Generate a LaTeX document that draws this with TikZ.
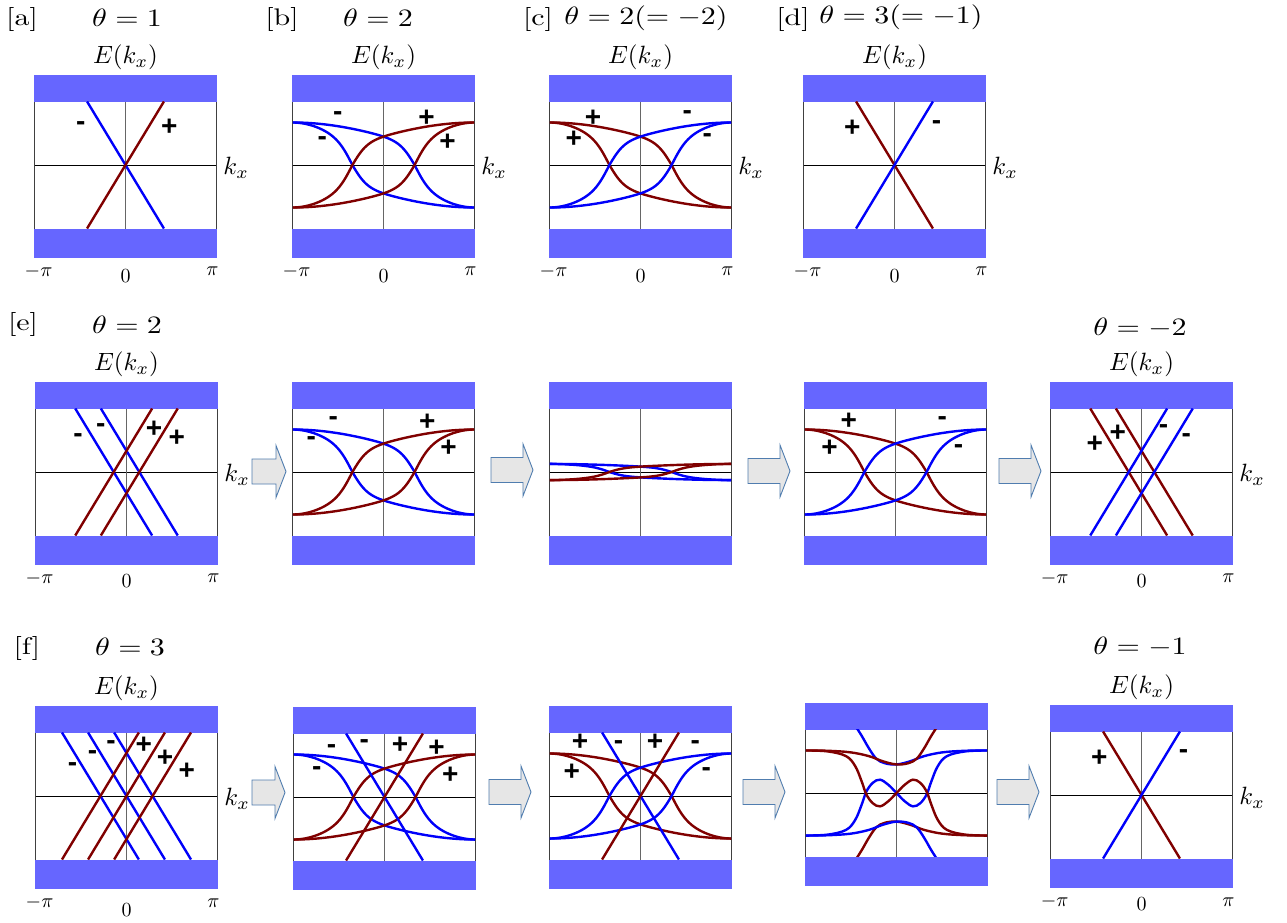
\documentclass[tikz,border=0pt]{standalone}
\usepackage{fontspec}
\newfontfamily\signfont{Liberation Sans}
\definecolor{bandc}{RGB}{102,102,255}
\definecolor{bluec}{RGB}{0,0,250}
\definecolor{redc}{RGB}{128,0,0}
\definecolor{arrfill}{RGB}{230,230,230}
\definecolor{arrdraw}{RGB}{80,125,175}
\newcommand\pbase{%
  \fill[bandc] (-1,1) rectangle (1,1.41);
  \fill[bandc] (-1,-1) rectangle (1,-1.457);
  \draw[frameline] (-0.99,-1) -- (-0.99,1) (0.99,-1) -- (0.99,1);
  \draw[axisline] (-0.99,0) -- (0.99,0);
  \draw[cline] (0,-1) -- (0,1);}
\newcommand\pEk[1]{\node[elab] (#1-E) at (0,1.70) {$E(k_x)$};}
\newcommand\pkx[1]{\node[klab] (#1-k) at (1.21,-0.04) {$k_x$};}
\newcommand\pticks[2]{\node[tick] (#1-m) at (-0.95,-1.68) {$-\pi$};
  \node[tick] (#1-z) at (0,#2) {$0$};
  \node[tick] (#1-p) at (0.95,-1.68) {$\pi$};}
\newcommand\bcurves[3]{%
  \draw[#1] plot[domain=-0.99:0.99,samples=110,smooth] (\x,{#3*bA(\x)});
  \draw[#1] plot[domain=-0.99:0.99,samples=110,smooth] (\x,{-#3*bA(-\x)});
  \draw[#2] plot[domain=-0.99:0.99,samples=110,smooth] (\x,{-#3*bA(\x)});
  \draw[#2] plot[domain=-0.99:0.99,samples=110,smooth] (\x,{#3*bA(-\x)});}
\newcommand\barrow[3]{\draw[arrst] ({#1},{#3-12.5}) -- ({#2-10},{#3-12.5}) -- ({#2-10},{#3-26}) -- ({#2},{#3}) -- ({#2-10},{#3+26}) -- ({#2-10},{#3+12.5}) -- ({#1},{#3+12.5}) -- cycle;}
\newcommand\inclip{\clip (-0.99,-1) rectangle (0.99,1);}
\begin{document}
\begin{tikzpicture}[x=1pt,y=-1pt,
  declare function={ee(\t)=exp(-2*min(abs(\t),6));
    th(\t)=sign(\t)*(1-ee(\t))/(1+ee(\t));
    gg(\x)=(\x<0.34) ? sin(90*(\x-0.34)/1.34) : sin(90*(\x-0.34)/0.66);
    bA(\x)=-(0.32*th((\x-0.34)/0.16)+0.35*gg(\x));},
  frameline/.style={draw=black!75,line width=1pt},
  axisline/.style={draw=black,line width=0.9pt},
  cline/.style={draw=black!60,line width=1pt},
  bl/.style={draw=bluec,line width=2.4pt},
  rd/.style={draw=redc,line width=2.4pt},
  brk/.style={scale=2.4,xscale=1.25,inner sep=0pt},
  hdr/.style={scale=2.5,xscale=1.2,inner sep=0pt},
  elab/.style={scale=2.5,inner sep=0pt},
  klab/.style={scale=2.5,inner sep=0pt},
  tick/.style={scale=2.0,inner sep=0pt},
  sgn/.style={font=\signfont\bfseries\fontsize{28}{32}\selectfont,inner sep=0pt},
  arrst/.style={draw=arrdraw,fill=arrfill,line width=0.9pt,line join=miter}]
\useasboundingbox (0,0) rectangle (1287,922);
\fill[white] (0,0) rectangle (1287,922);
% ---------------- headers
\node[brk] (h-a) at (22,19) {[a]};
\node[hdr] (t-a) at (127,18) {$\theta=1$};
\node[brk] (h-b) at (282,19) {[b]};
\node[hdr] (t-b) at (378,18) {$\theta=2$};
\node[brk] (h-c) at (538,19) {[c]};
\node[hdr] (t-c) at (646,18) {$\theta=2(=-2)$};
\node[brk] (h-d) at (793,19) {[d]};
\node[hdr] (t-d) at (901,17) {$\theta=3(=-1)$};
\node[brk] (h-e) at (23,324) {[e]};
\node[hdr] (t-e) at (127,325) {$\theta=2$};
\node[hdr] (t-e5) at (1140,328) {$\theta=-2$};
\node[brk] (h-f) at (27,648) {[f]};
\node[hdr] (t-f) at (130,647) {$\theta=3$};
\node[hdr] (t-f5) at (1140,647) {$\theta=-1$};
% ---------------- [a]
\begin{scope}[shift={(125.5,165)},x=91.5pt,y=63.5pt]
\pbase
\begin{scope}\inclip
\draw[bl] (-0.42,1) -- (0.42,-1);
\draw[rd] (-0.42,-1) -- (0.42,1);
\end{scope}
\node[sgn] (a-s1) at (-0.49,0.62) {-};
\node[sgn] (a-s2) at (0.48,0.60) {+};
\pEk{a}\pkx{a}\pticks{a}{-1.75}
\end{scope}
% ---------------- [b]
\begin{scope}[shift={(383.5,165)},x=91.5pt,y=63.5pt]
\pbase
\begin{scope}\inclip\bcurves{bl}{rd}{1}\end{scope}
\node[sgn] (b-s1) at (-0.5,0.77) {-};
\node[sgn] (b-s2) at (-0.67,0.38) {-};
\node[sgn] (b-s3) at (0.47,0.74) {+};
\node[sgn] (b-s4) at (0.70,0.36) {+};
\pEk{b}\pkx{b}\pticks{b}{-1.75}
\end{scope}
% ---------------- [c]
\begin{scope}[shift={(640.5,165)},x=91.5pt,y=63.5pt]
\pbase
\begin{scope}\inclip\bcurves{rd}{bl}{1}\end{scope}
\node[sgn] (c-s1) at (-0.52,0.74) {+};
\node[sgn] (c-s2) at (-0.73,0.41) {+};
\node[sgn] (c-s3) at (0.51,0.79) {-};
\node[sgn] (c-s4) at (0.73,0.43) {-};
\pEk{c}\pkx{c}\pticks{c}{-1.75}
\end{scope}
% ---------------- [d]
\begin{scope}[shift={(894.5,165)},x=91.5pt,y=63.5pt]
\pbase
\begin{scope}\inclip
\draw[rd] (-0.42,1) -- (0.42,-1);
\draw[bl] (-0.42,-1) -- (0.42,1);
\end{scope}
\node[sgn] (d-s1) at (-0.46,0.58) {+};
\node[sgn] (d-s2) at (0.46,0.63) {-};
\pEk{d}\pkx{d}\pticks{d}{-1.75}
\end{scope}
% ---------------- row e
\begin{scope}[shift={(126.5,472)},x=91.5pt,y=63.5pt]
\pbase
\begin{scope}\inclip
\draw[bl] (-0.56,1) -- (0.28,-1);
\draw[bl] (-0.28,1) -- (0.56,-1);
\draw[rd] (-0.56,-1) -- (0.28,1);
\draw[rd] (-0.28,-1) -- (0.56,1);
\end{scope}
\node[sgn] (e1-s1) at (-0.53,0.53) {-};
\node[sgn] (e1-s2) at (-0.28,0.69) {-};
\node[sgn] (e1-s3) at (0.30,0.67) {+};
\node[sgn] (e1-s4) at (0.55,0.53) {+};
\pEk{e1}\pkx{e1}\pticks{e1}{-1.72}
\end{scope}
\begin{scope}[shift={(383.5,472)},x=91.5pt,y=63.5pt]
\pbase
\begin{scope}\inclip\bcurves{bl}{rd}{1}\end{scope}
\node[sgn] (e2-s1) at (-0.55,0.81) {-};
\node[sgn] (e2-s2) at (-0.79,0.48) {-};
\node[sgn] (e2-s3) at (0.48,0.78) {+};
\node[sgn] (e2-s4) at (0.71,0.37) {+};
\end{scope}
\begin{scope}[shift={(640.5,472)},x=91.5pt,y=63.5pt]
\pbase
\begin{scope}\inclip\bcurves{bl}{rd}{0.19}\end{scope}
\end{scope}
\begin{scope}[shift={(895.5,472)},x=91.5pt,y=63.5pt]
\pbase
\begin{scope}\inclip\bcurves{rd}{bl}{1}\end{scope}
\node[sgn] (e4-s1) at (-0.51,0.80) {+};
\node[sgn] (e4-s2) at (-0.72,0.38) {+};
\node[sgn] (e4-s3) at (0.51,0.80) {-};
\node[sgn] (e4-s4) at (0.69,0.36) {-};
\end{scope}
\begin{scope}[shift={(1141.5,472)},x=91.5pt,y=63.5pt]
\pbase
\begin{scope}\inclip
\draw[rd] (-0.56,1) -- (0.28,-1);
\draw[rd] (-0.28,1) -- (0.56,-1);
\draw[bl] (-0.56,-1) -- (0.28,1);
\draw[bl] (-0.28,-1) -- (0.56,1);
\end{scope}
\node[sgn] (e5-s1) at (-0.51,0.44) {+};
\node[sgn] (e5-s2) at (-0.26,0.61) {+};
\node[sgn] (e5-s3) at (0.24,0.67) {-};
\node[sgn] (e5-s4) at (0.49,0.53) {-};
\pEk{e5}\pkx{e5}\pticks{e5}{-1.72}
\end{scope}
\barrow{252}{286}{471.5}
\barrow{491}{533}{470}
\barrow{748}{790}{471}
\barrow{999}{1041}{471}
% ---------------- row f
\begin{scope}[shift={(126.5,796)},x=91.5pt,y=63.5pt]
\pbase
\begin{scope}\inclip
\draw[bl] (-0.705,1) -- (0.135,-1);
\draw[bl] (-0.42,1) -- (0.42,-1);
\draw[bl] (-0.135,1) -- (0.705,-1);
\draw[rd] (-0.705,-1) -- (0.135,1);
\draw[rd] (-0.42,-1) -- (0.42,1);
\draw[rd] (-0.135,-1) -- (0.705,1);
\end{scope}
\node[sgn] (f1-s1) at (-0.59,0.45) {-};
\node[sgn] (f1-s2) at (-0.37,0.64) {-};
\node[sgn] (f1-s3) at (-0.17,0.80) {-};
\node[sgn] (f1-s4) at (0.19,0.80) {+};
\node[sgn] (f1-s5) at (0.42,0.59) {+};
\node[sgn] (f1-s6) at (0.66,0.39) {+};
\pEk{f1}\pkx{f1}\pticks{f1}{-1.80}
\end{scope}
\begin{scope}[shift={(384.5,797)},x=91.5pt,y=63.5pt]
\pbase
\begin{scope}\inclip\bcurves{bl}{rd}{1}
\draw[bl] (-0.42,1) -- (0.42,-1);
\draw[rd] (-0.42,-1) -- (0.42,1);
\end{scope}
\node[sgn] (f2-s1) at (-0.58,0.75) {-};
\node[sgn] (f2-s2) at (-0.22,0.83) {-};
\node[sgn] (f2-s3) at (0.17,0.81) {+};
\node[sgn] (f2-s4) at (0.57,0.77) {+};
\node[sgn] (f2-s5) at (0.72,0.34) {+};
\node[sgn] (f2-s6) at (-0.74,0.41) {-};
\end{scope}
\begin{scope}[shift={(640.5,796)},x=91.5pt,y=63.5pt]
\pbase
\begin{scope}\inclip\bcurves{rd}{bl}{1}
\draw[bl] (-0.42,1) -- (0.42,-1);
\draw[rd] (-0.42,-1) -- (0.42,1);
\end{scope}
\node[sgn] (f3-s1) at (-0.66,0.84) {+};
\node[sgn] (f3-s2) at (-0.24,0.81) {-};
\node[sgn] (f3-s3) at (0.16,0.84) {+};
\node[sgn] (f3-s4) at (0.60,0.81) {-};
\node[sgn] (f3-s5) at (-0.75,0.38) {+};
\node[sgn] (f3-s6) at (0.72,0.38) {-};
\end{scope}
\begin{scope}[shift={(896.5,793)},x=91.5pt,y=63.5pt]
\pbase
\begin{scope}\inclip
\draw[bl] plot[smooth,tension=0.6] coordinates {(-0.46,1.08) (-0.38,0.9) (-0.3,0.7) (-0.22,0.54) (-0.13,0.47) (0,0.45) (0.15,0.5) (0.3,0.58) (0.5,0.64) (0.75,0.665) (1,0.67)};
\draw[rd] plot[smooth,tension=0.6] coordinates {(0.46,1.08) (0.38,0.9) (0.3,0.7) (0.22,0.54) (0.13,0.47) (0,0.45) (-0.15,0.5) (-0.3,0.58) (-0.5,0.64) (-0.75,0.665) (-1,0.67)};
\draw[rd] plot[smooth,tension=0.6] coordinates {(-0.46,-1.08) (-0.38,-0.9) (-0.3,-0.7) (-0.22,-0.54) (-0.13,-0.47) (0,-0.45) (0.15,-0.5) (0.3,-0.58) (0.5,-0.64) (0.75,-0.665) (1,-0.67)};
\draw[bl] plot[smooth,tension=0.6] coordinates {(0.46,-1.08) (0.38,-0.9) (0.3,-0.7) (0.22,-0.54) (0.13,-0.47) (0,-0.45) (-0.15,-0.5) (-0.3,-0.58) (-0.5,-0.64) (-0.75,-0.665) (-1,-0.67)};
\draw[bl] plot[smooth,tension=0.6] coordinates {(-1,-0.67) (-0.75,-0.655) (-0.55,-0.58) (-0.45,-0.42) (-0.38,-0.18) (-0.33,0.02) (-0.26,0.16) (-0.18,0.21) (-0.09,0.13) (0,0) (0.09,-0.13) (0.18,-0.21) (0.26,-0.16) (0.33,-0.02) (0.38,0.18) (0.45,0.42) (0.55,0.58) (0.75,0.655) (1,0.67)};
\draw[rd] plot[smooth,tension=0.6] coordinates {(-1,0.67) (-0.75,0.655) (-0.55,0.58) (-0.45,0.42) (-0.38,0.18) (-0.33,-0.02) (-0.26,-0.16) (-0.18,-0.21) (-0.09,-0.13) (0,0) (0.09,0.13) (0.18,0.21) (0.26,0.16) (0.33,0.02) (0.38,-0.18) (0.45,-0.42) (0.55,-0.58) (0.75,-0.655) (1,-0.67)};
\end{scope}
\end{scope}
\begin{scope}[shift={(1141.5,795)},x=91.5pt,y=63.5pt]
\pbase
\begin{scope}\inclip
\draw[rd] (-0.42,1) -- (0.42,-1);
\draw[bl] (-0.42,-1) -- (0.42,1);
\end{scope}
\node[sgn] (f5-s1) at (-0.46,0.58) {+};
\node[sgn] (f5-s2) at (0.46,0.64) {-};
\pEk{f5}\pkx{f5}\pticks{f5}{-1.72}
\end{scope}
\barrow{252}{285}{792.5}
\barrow{489}{531}{792}
\barrow{743}{785}{792}
\barrow{997}{1039}{792}
\end{tikzpicture}
\end{document}
